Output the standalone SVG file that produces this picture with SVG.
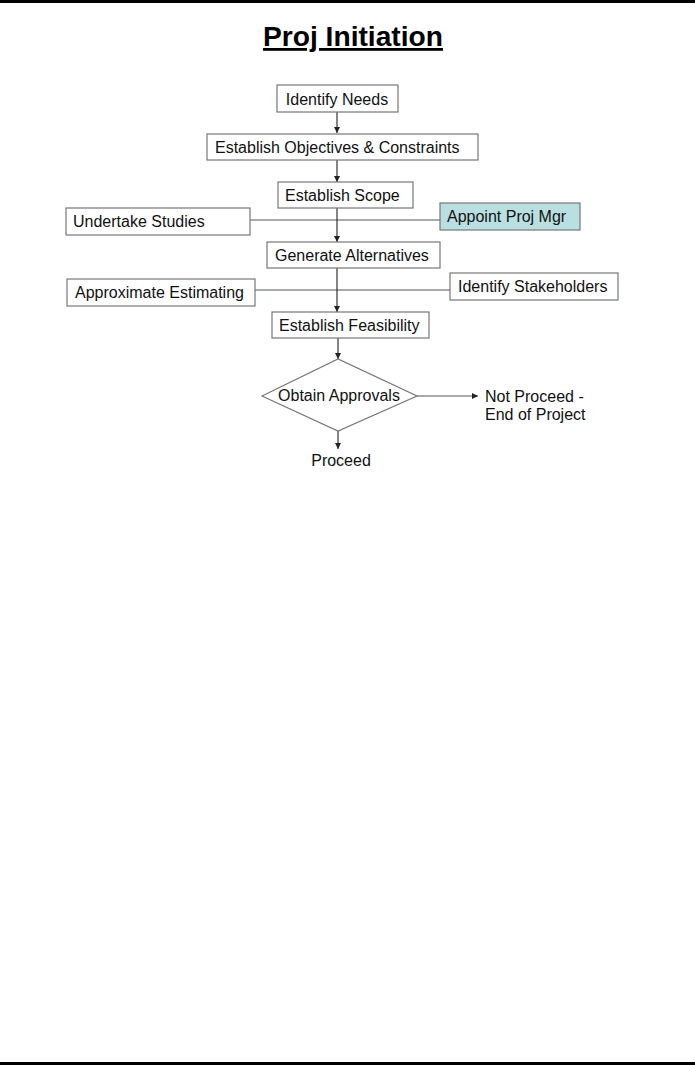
<svg xmlns="http://www.w3.org/2000/svg" width="695" height="1066" viewBox="0 0 695 1066">
<style>
text{font-family:"Liberation Sans",Arial,sans-serif;font-size:16px;fill:#111}
.box{fill:#fff;stroke:#777;stroke-width:1.2}
.teal{fill:#b9dfe1;stroke:#777;stroke-width:1.2}
.conn{stroke:#333;stroke-width:1.2;fill:none}
.side{stroke:#555;stroke-width:1;fill:none}
.title{font-size:28px;font-weight:bold;text-decoration:underline;fill:#000}
</style>
<defs>
<marker id="ah" viewBox="0 0 6 6" refX="6" refY="3" markerWidth="6" markerHeight="6" markerUnits="userSpaceOnUse" orient="auto">
<path d="M0,0 L6,3 L0,6 z" fill="#222"/>
</marker>
</defs>
<rect x="0" y="0" width="695" height="3" fill="#000"/>
<rect x="0" y="1062" width="695" height="3" fill="#000"/>
<text class="title" x="353" y="46" text-anchor="middle" textLength="180" lengthAdjust="spacingAndGlyphs">Proj Initiation</text>

<g id="connectors">
<line class="side" x1="250" y1="220" x2="440" y2="220"/>
<line class="side" x1="255" y1="290" x2="450" y2="290"/>
<line class="conn" x1="337" y1="112" x2="337" y2="133" marker-end="url(#ah)"/>
<line class="conn" x1="337" y1="160" x2="337" y2="182" marker-end="url(#ah)"/>
<line class="conn" x1="337" y1="208" x2="337" y2="242" marker-end="url(#ah)"/>
<line class="conn" x1="337" y1="268" x2="337" y2="312" marker-end="url(#ah)"/>
<line class="conn" x1="338" y1="338" x2="338" y2="359" marker-end="url(#ah)"/>
<line class="conn" x1="338" y1="431" x2="338" y2="449" marker-end="url(#ah)"/>
<line class="side" x1="417" y1="396" x2="478" y2="396" marker-end="url(#ah)"/>
</g>

<g id="identify-needs">
<rect class="box" x="277" y="85" width="121" height="27"/>
<text x="337" y="105" text-anchor="middle">Identify Needs</text>
</g>
<g id="objectives">
<rect class="box" x="207" y="134" width="271" height="26"/>
<text x="215" y="153">Establish Objectives &amp; Constraints</text>
</g>
<g id="scope">
<rect class="box" x="278" y="182" width="135" height="26"/>
<text x="285" y="201">Establish Scope</text>
</g>
<g id="undertake-studies">
<rect class="box" x="66" y="208" width="184" height="27"/>
<text x="73" y="227">Undertake Studies</text>
</g>
<g id="appoint-proj-mgr">
<rect class="teal" x="440" y="203" width="140" height="27"/>
<text x="447" y="222">Appoint Proj Mgr</text>
</g>
<g id="generate-alternatives">
<rect class="box" x="267" y="242" width="173" height="26"/>
<text x="275" y="261">Generate Alternatives</text>
</g>
<g id="approximate-estimating">
<rect class="box" x="67" y="279" width="188" height="27"/>
<text x="75" y="298">Approximate Estimating</text>
</g>
<g id="identify-stakeholders">
<rect class="box" x="450" y="273" width="168" height="27"/>
<text x="458" y="292">Identify Stakeholders</text>
</g>
<g id="feasibility">
<rect class="box" x="272" y="312" width="157" height="26"/>
<text x="279" y="331">Establish Feasibility</text>
</g>
<g id="obtain-approvals">
<polygon class="box" points="262,396 338,359 417,396 338,431"/>
<text x="339" y="401" text-anchor="middle">Obtain Approvals</text>
</g>
<g id="not-proceed">
<text x="485" y="402">Not Proceed -</text>
<text x="485" y="420">End of Project</text>
</g>
<g id="proceed">
<text x="341" y="466" text-anchor="middle">Proceed</text>
</g>
</svg>
